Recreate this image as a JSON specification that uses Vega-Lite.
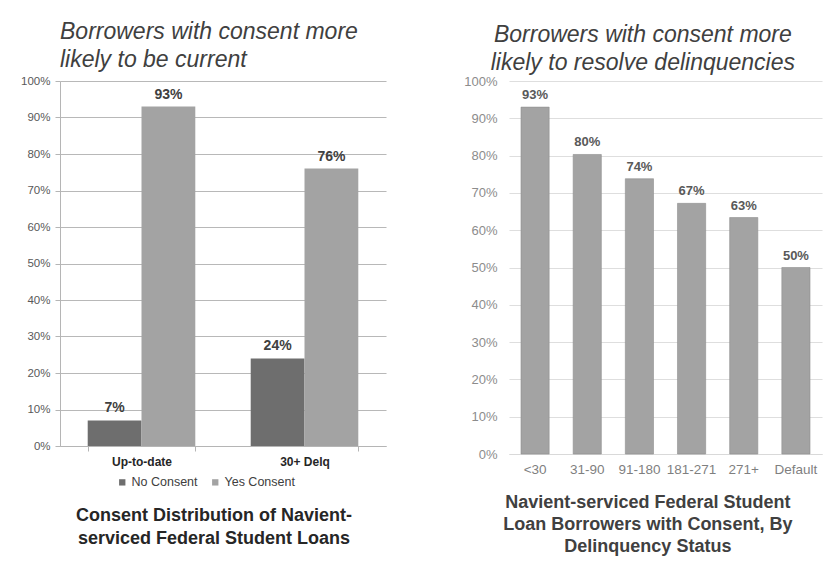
{
  "$schema": "https://vega.github.io/schema/vega-lite/v6.json",
  "padding": {"left": 20, "top": 21, "right": 5, "bottom": 5},
  "background": "white",
  "config": {
    "font": "Liberation Sans",
    "view": {"stroke": null},
    "concat": {"spacing": 77}
  },
  "datasets": {
    "consent": [
      {"status": "Up-to-date", "group": "No Consent", "share": 0.07},
      {"status": "Up-to-date", "group": "Yes Consent", "share": 0.93},
      {"status": "30+ Delq", "group": "No Consent", "share": 0.24},
      {"status": "30+ Delq", "group": "Yes Consent", "share": 0.76}
    ],
    "delinquency": [
      {"bucket": "<30", "share": 0.93},
      {"bucket": "31-90", "share": 0.803},
      {"bucket": "91-180", "share": 0.738},
      {"bucket": "181-271", "share": 0.672},
      {"bucket": "271+", "share": 0.634},
      {"bucket": "Default", "share": 0.50}
    ]
  },
  "hconcat": [
    {
      "title": {
        "text": ["Borrowers with consent more", "likely to be current"],
        "fontSize": 23, "fontStyle": "italic", "fontWeight": "normal",
        "color": "#404040", "anchor": "start", "frame": "group",
        "lineHeight": 28, "offset": 3
      },
      "vconcat": [
        {
          "width": 326,
          "height": 365,
          "data": {"name": "consent"},
          "title": {
            "text": ["Consent Distribution of Navient-", "serviced Federal Student Loans"],
            "orient": "bottom", "fontSize": 18, "fontWeight": "bold",
            "color": "#262626", "lineHeight": 23, "anchor": "middle",
            "frame": "group", "dx": -9, "offset": 40
          },
          "encoding": {
            "x": {
              "field": "status", "type": "nominal",
              "sort": ["Up-to-date", "30+ Delq"],
              "scale": {"paddingInner": 0.34, "paddingOuter": 0.17},
              "axis": {
                "title": null, "labelAngle": 0, "labelFontSize": 12,
                "labelFontWeight": "bold", "labelColor": "#262626",
                "domainColor": "#b5b5b5", "tickColor": "#b5b5b5",
                "tickBand": "extent", "tickSize": 5, "labelPadding": 5
              }
            },
            "xOffset": {
              "field": "group", "type": "nominal",
              "sort": ["No Consent", "Yes Consent"],
              "scale": {"paddingInner": 0, "paddingOuter": 0}
            },
            "y": {
              "field": "share", "type": "quantitative",
              "scale": {"domain": [0, 1], "nice": false},
              "axis": {
                "title": null, "format": ".0%", "values": [0, 0.1, 0.2, 0.3, 0.4, 0.5, 0.6, 0.7, 0.8, 0.9, 1],
                "labelFontSize": 11.5, "labelColor": "#595959",
                "domainColor": "#b5b5b5", "tickColor": "#b5b5b5", "tickSize": 5,
                "labelPadding": 5, "gridColor": "#b8b8b8", "gridWidth": 1.2
              }
            }
          },
          "layer": [
            {
              "mark": {"type": "bar"},
              "encoding": {
                "color": {
                  "field": "group", "type": "nominal",
                  "sort": ["No Consent", "Yes Consent"],
                  "scale": {"domain": ["No Consent", "Yes Consent"], "range": ["#6e6e6e", "#a3a3a3"]},
                  "legend": {
                    "title": null, "orient": "none", "direction": "horizontal",
                    "legendX": 56, "legendY": 395,
                    "symbolType": "square", "symbolSize": 40, "symbolStrokeWidth": 0,
                    "labelFontSize": 12.5, "labelColor": "#404040", "labelOffset": 3,
                    "columnPadding": 11
                  }
                }
              }
            },
            {
              "mark": {"type": "text", "baseline": "bottom", "dy": -5, "fontSize": 14, "fontWeight": "bold", "color": "#404040"},
              "encoding": {
                "text": {"field": "share", "type": "quantitative", "format": ".0%"}
              }
            }
          ]
        }
      ]
    },
    {
      "title": {
        "text": ["Borrowers with consent more", "likely to resolve delinquencies"],
        "fontSize": 23, "fontStyle": "italic", "fontWeight": "normal",
        "color": "#404040", "anchor": "middle", "frame": "bounds",
        "lineHeight": 28, "offset": 0
      },
      "vconcat": [
        {
          "width": 313,
          "height": 373,
          "data": {"name": "delinquency"},
          "title": {
            "text": ["Navient-serviced Federal Student", "Loan Borrowers with Consent, By", "Delinquency Status"],
            "orient": "bottom", "fontSize": 18, "fontWeight": "bold",
            "color": "#404040", "lineHeight": 22, "anchor": "middle",
            "frame": "bounds", "dx": 5, "offset": 18
          },
          "encoding": {
            "x": {
              "field": "bucket", "type": "nominal",
              "sort": ["<30", "31-90", "91-180", "181-271", "271+", "Default"],
              "scale": {"paddingInner": 0.46, "paddingOuter": 0.23},
              "axis": {
                "title": null, "labelAngle": 0, "labelFontSize": 13.5,
                "labelColor": "#7f7f7f", "domainColor": "#d9d9d9",
                "ticks": false, "labelPadding": 8
              }
            },
            "y": {
              "field": "share", "type": "quantitative",
              "scale": {"domain": [0, 1], "nice": false},
              "axis": {
                "title": null, "format": ".0%", "values": [0, 0.1, 0.2, 0.3, 0.4, 0.5, 0.6, 0.7, 0.8, 0.9, 1],
                "labelFontSize": 13, "labelColor": "#8c8c8c",
                "domain": false, "ticks": false, "labelPadding": 12,
                "gridColor": "#dedede", "gridWidth": 1.2
              }
            }
          },
          "layer": [
            {
              "mark": {"type": "bar", "color": "#a3a3a3", "stroke": "#8f8f8f", "strokeWidth": 0.6}
            },
            {
              "mark": {"type": "text", "baseline": "bottom", "dy": -5, "fontSize": 13, "fontWeight": "bold", "color": "#595959"},
              "encoding": {
                "text": {"field": "share", "type": "quantitative", "format": ".0%"}
              }
            }
          ]
        }
      ]
    }
  ]
}
